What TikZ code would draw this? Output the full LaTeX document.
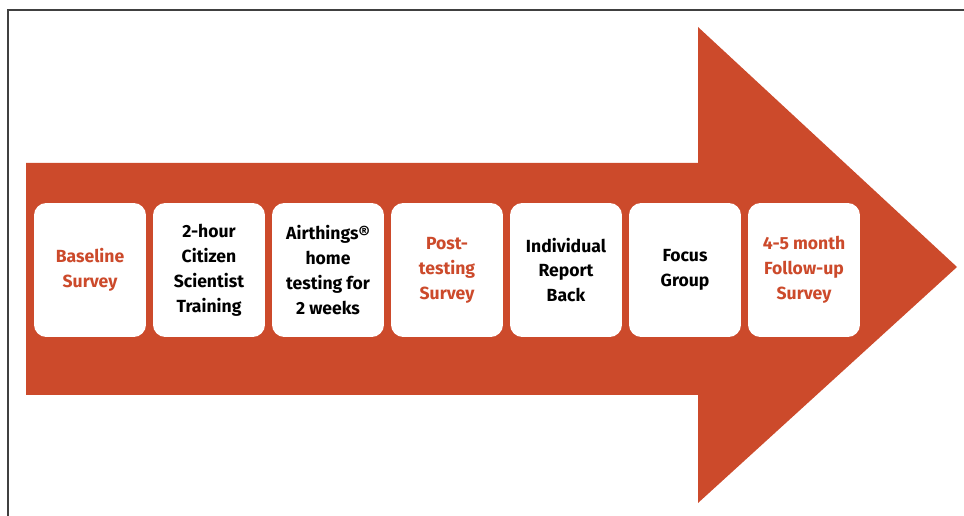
\documentclass[tikz,border=0pt]{standalone}
\usepackage{fontspec}
\setmainfont{Fira Sans}
\definecolor{rust}{HTML}{CC4A2B}
\definecolor{framegray}{HTML}{404040}
\begin{document}
\begin{tikzpicture}[x=0.02cm, y=-0.02cm,
  stage/.style={rectangle, rounded corners=7pt, fill=white, minimum width=2.24cm, minimum height=2.68cm, align=center, font=\bfseries\fontsize{10}{14.2}\selectfont, inner sep=2pt},
  survey/.style={stage, text=rust}]
\useasboundingbox (0,0) rectangle (964,516);
\draw[framegray, line width=0.6pt] (8,516) -- (8,10) -- (964,10);
\fill[rust] (26,163) -- (698,163) -- (698,27) -- (957,267) -- (698,503) -- (698,395) -- (26,395) -- cycle;
\node[survey] (st0) at (90,270){Baseline\\Survey};
\node[stage] (st1) at (209,270){2-hour\\Citizen\\Scientist\\Training};
\node[stage] (st2) at (328,270){Airthings®\\home\\testing for\\2 weeks};
\node[survey] (st3) at (447,270){Post-\\testing\\Survey};
\node[stage] (st4) at (566,270){Individual\\Report\\Back};
\node[stage] (st5) at (685,270){Focus\\Group};
\node[survey] (st6) at (804,270){4-5 month\\Follow-up\\Survey};

\end{tikzpicture}
\end{document}
